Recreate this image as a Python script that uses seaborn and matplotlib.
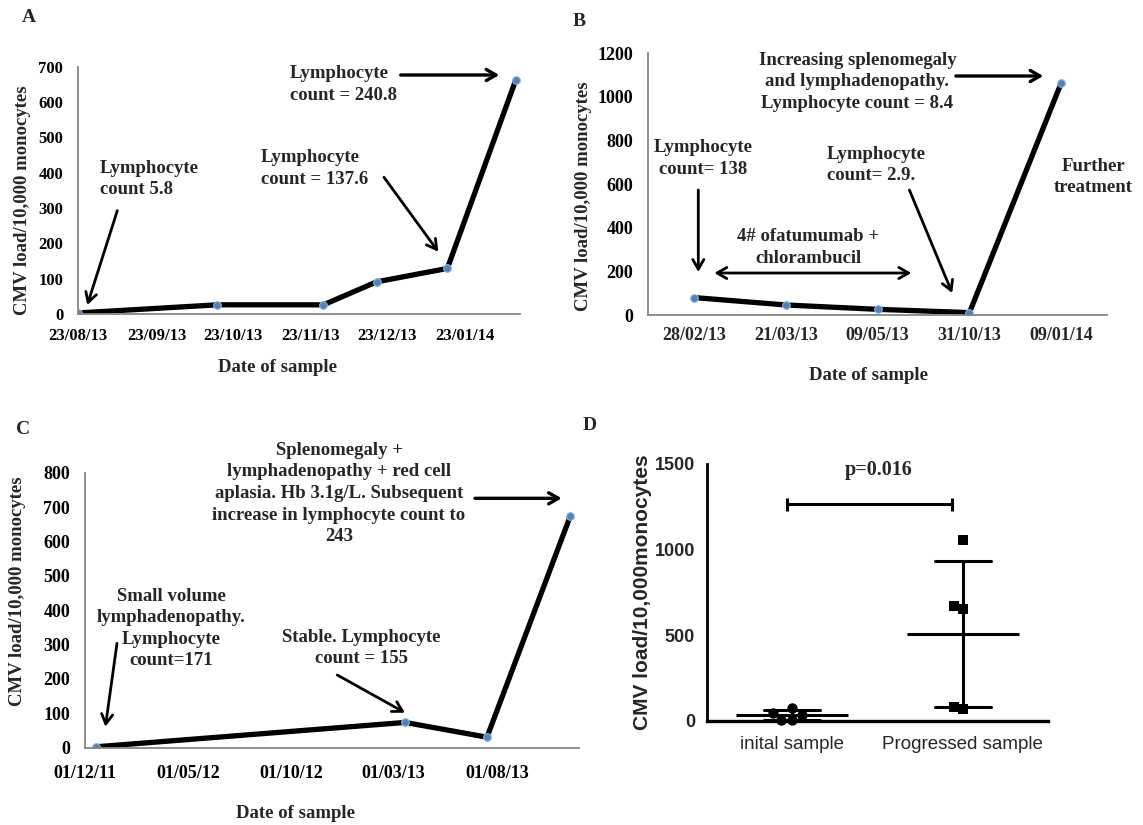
import numpy as np
import pandas as pd
import matplotlib
matplotlib.use("Agg")
import matplotlib.pyplot as plt
import matplotlib.dates as mdates
import seaborn as sns

# ---------------------------------------------------------
# DATA
# ---------------------------------------------------------
# Panel A - date axis
a_dates = ["2013-08-23", "2013-10-17", "2013-11-28", "2013-12-19", "2014-01-16", "2014-02-12"]
a_load = [3, 26, 26, 91, 129, 661]
a_ticks = ["2013-08-23", "2013-09-23", "2013-10-23", "2013-11-23", "2013-12-23", "2014-01-23"]

# Panel B - category axis
b_dates = ["28/02/13", "21/03/13", "09/05/13", "31/10/13", "09/01/14"]
b_load = [80, 46, 26, 11, 1065]

# Panel C - date axis
c_dates = ["2011-12-17", "2013-03-18", "2013-07-17", "2013-11-17"]
c_load = [2, 73, 30, 673]
c_ticks = ["2011-12-01", "2012-05-01", "2012-10-01", "2013-03-01", "2013-08-01"]

# Panel D - scatter with mean +/- SD
d_groups = ["inital sample", "Progressed sample"]
d_initial = [75, 33, 5, 2, 43]
d_progressed = [1055, 672, 655, 68, 82]
d_p_label = "p=0.016"

# ---------------------------------------------------------
# STYLE
# ---------------------------------------------------------
sns.set_theme(style="white")
plt.rcParams["font.family"] = ["Liberation Serif", "DejaVu Serif"]
plt.rcParams["font.weight"] = "bold"

W, H = 1143, 825
fig = plt.figure(figsize=(W / 100, H / 100), dpi=100)


def box(l, t, r, b):
    return [l / W, 1 - b / H, (r - l) / W, (b - t) / H]


def fp(x, y):
    return (x / W, 1 - y / H)


LINE = "black"
MARK = "#4F81BD"
GRAY = "#868686"
TXT = 13.5


def excel_axes(ax, tick_size, xpad):
    for s in ["top", "right"]:
        ax.spines[s].set_visible(False)
    for s in ["left", "bottom"]:
        ax.spines[s].set_color(GRAY)
        ax.spines[s].set_linewidth(1.3)
    ax.tick_params(axis="both", which="major", direction="out", length=3.8, width=1.2,
                   color=GRAY, labelsize=tick_size, labelcolor="black")
    ax.tick_params(axis="y", pad=7)
    ax.tick_params(axis="x", pad=xpad)
    ax.set_xlabel("")
    ax.set_ylabel("")
    for lab in ax.get_xticklabels() + ax.get_yticklabels():
        lab.set_fontweight("bold")


def arrow(x0, y0, x1, y1, style="->", lw=2.0):
    fig.add_artist(matplotlib.patches.FancyArrowPatch(
        fp(x0, y0), fp(x1, y1), transform=fig.transFigure,
        arrowstyle=style + ",head_length=7,head_width=4", color="black", lw=lw,
        mutation_scale=1, shrinkA=0, shrinkB=0))


def note(x, y, s, ha="center", size=TXT):
    fig.text(*fp(x, y), s, ha=ha, va="center", fontsize=size, fontweight="bold",
             multialignment=ha, linespacing=1.35)


line_kws = dict(color=LINE, linewidth=3.8, marker="o", markersize=5.5,
                markerfacecolor=MARK, markeredgecolor="#8DB3E2", markeredgewidth=0.8)

# ---------------------------------------------------------
# PANEL A
# ---------------------------------------------------------
axA = fig.add_axes(box(78.3, 66.7, 519.6, 314))
dfA = pd.DataFrame({"date": pd.to_datetime(a_dates), "load": a_load})
sns.lineplot(data=dfA, x="date", y="load", ax=axA, **line_kws)
axA.set_xlim(pd.Timestamp("2013-08-23"), pd.Timestamp("2014-02-13 14:00"))
axA.set_ylim(0, 700)
axA.set_yticks(np.arange(0, 701, 100))
axA.set_xticks(pd.to_datetime(a_ticks))
axA.xaxis.set_major_formatter(mdates.DateFormatter("%d/%m/%y"))
excel_axes(axA, 12, 6)

fig.text(*fp(28.6, 18), "A", fontsize=14, fontweight="bold", ha="center", va="center")
fig.text(*fp(278, 367), "Date of sample", fontsize=TXT, fontweight="bold", ha="center", va="center")
fig.text(*fp(23, 200), "CMV load/10,000 monocytes", fontsize=TXT, fontweight="bold",
         ha="center", va="center", rotation=90)
note(100, 179, "Lymphocyte\ncount 5.8", ha="left")
note(261, 168.7, "Lymphocyte\ncount = 137.6", ha="left")
note(290, 84.7, "Lymphocyte\ncount = 240.8", ha="left")
arrow(117.3, 210.7, 87.3, 305)
arrow(384, 177.3, 438.3, 251.7)
arrow(400.7, 75, 499.3, 75, lw=2.4)

# ---------------------------------------------------------
# PANEL B
# ---------------------------------------------------------
axB = fig.add_axes(box(648.1, 53.3, 1107.2, 315))
dfB = pd.DataFrame({"pos": np.arange(len(b_dates)), "load": b_load})
sns.lineplot(data=dfB, x="pos", y="load", ax=axB, **line_kws)
axB.set_xlim(-0.5, len(b_dates) - 0.5)
axB.set_ylim(0, 1200)
axB.set_yticks(np.arange(0, 1201, 200))
axB.set_xticks(np.arange(-0.5, len(b_dates), 1.0))
axB.set_xticklabels([])
axB.set_xticks(np.arange(len(b_dates)), minor=True)
axB.set_xticklabels(b_dates, minor=True)
excel_axes(axB, 13, 9)
axB.tick_params(axis="x", which="minor", length=0, labelsize=13, pad=9)
for lab in axB.get_xticklabels(minor=True):
    lab.set_fontweight("bold")

fig.text(*fp(579, 21), "B", fontsize=14, fontweight="bold", ha="center", va="center")
fig.text(*fp(868.6, 375), "Date of sample", fontsize=TXT, fontweight="bold", ha="center", va="center")
fig.text(*fp(584, 196), "CMV load/10,000 monocytes", fontsize=TXT, fontweight="bold",
         ha="center", va="center", rotation=90)
note(857.4, 82, "Increasing splenomegaly\nand lymphadenopathy.\nLymphocyte count = 8.4")
note(703, 158.5, "Lymphocyte\ncount= 138")
note(808, 247.5, "4# ofatumumab +\nchlorambucil")
note(826.9, 165, "Lymphocyte\ncount= 2.9.", ha="left")
note(1093.5, 177, "Further\ntreatment")
arrow(955.9, 76, 1043.3, 76, lw=2.4)
arrow(698.3, 190, 698.3, 272)
arrow(714.3, 273, 911.3, 273, style="<->")
arrow(909.4, 190, 952.2, 293)

# ---------------------------------------------------------
# PANEL C
# ---------------------------------------------------------
axC = fig.add_axes(box(85, 472.7, 579, 747.5))
dfC = pd.DataFrame({"date": pd.to_datetime(c_dates), "load": c_load})
sns.lineplot(data=dfC, x="date", y="load", ax=axC, **line_kws)
axC.set_xlim(pd.Timestamp("2011-12-01"), pd.Timestamp("2013-11-30"))
axC.set_ylim(0, 800)
axC.set_yticks(np.arange(0, 801, 100))
axC.set_xticks(pd.to_datetime(c_ticks))
axC.xaxis.set_major_formatter(mdates.DateFormatter("%d/%m/%y"))
excel_axes(axC, 13, 9)

fig.text(*fp(23, 430), "C", fontsize=14, fontweight="bold", ha="center", va="center")
fig.text(*fp(295.7, 813.3), "Date of sample", fontsize=TXT, fontweight="bold", ha="center", va="center")
fig.text(*fp(18, 590.8), "CMV load/10,000 monocytes", fontsize=TXT, fontweight="bold",
         ha="center", va="center", rotation=90)
note(339, 493.5, "Splenomegaly +\nlymphadenopathy + red cell\naplasia. Hb 3.1g/L. Subsequent\n"
     "increase in lymphocyte count to\n243")
note(171.4, 628.5, "Small volume\nlymphadenopathy.\nLymphocyte\ncount=171")
note(361.4, 648, "Stable. Lymphocyte\ncount = 155")
arrow(475, 498.3, 561.7, 498.3, lw=2.4)
arrow(117, 643.3, 105.4, 726.7)
arrow(337.3, 675, 405, 712.7)

# ---------------------------------------------------------
# PANEL D
# ---------------------------------------------------------
axD = fig.add_axes(box(706.9, 464, 1048, 720.7))
dfD = pd.DataFrame({
    "group": [d_groups[0]] * len(d_initial) + [d_groups[1]] * len(d_progressed),
    "load": d_initial + d_progressed,
})
sans = ["Liberation Sans", "DejaVu Sans"]
sns.swarmplot(data=dfD[dfD["group"] == d_groups[0]], x="group", y="load", order=d_groups,
              color="black", marker="o", size=7.5, ax=axD)
sns.swarmplot(data=dfD[dfD["group"] == d_groups[1]], x="group", y="load", order=d_groups,
              color="black", marker="s", size=6.5, ax=axD)
sns.pointplot(data=dfD, x="group", y="load", order=d_groups, errorbar="sd", capsize=0.33,
              color="black", linestyle="none", marker="_", markersize=81,
              markeredgewidth=2.2, err_kws={"linewidth": 2.2}, ax=axD)
for c in axD.collections:
    c.set_clip_on(False)
for l in axD.lines:
    l.set_clip_on(False)
axD.set_xlim(-0.5, 1.5)
axD.set_ylim(0, 1500)
axD.set_yticks([0, 500, 1000, 1500])
axD.set_xlabel("")
axD.set_ylabel("")
for s in ["top", "right"]:
    axD.spines[s].set_visible(False)
axD.spines["left"].set_linewidth(2.0)
axD.spines["bottom"].set_linewidth(2.4)
for s in ["left", "bottom"]:
    axD.spines[s].set_color("black")
axD.tick_params(axis="y", direction="out", length=6.5, width=2.0, color="black", pad=2)
axD.tick_params(axis="x", direction="out", length=8, width=2.0, color="black", pad=3)
for lab in axD.get_yticklabels():
    lab.set_fontfamily(sans)
    lab.set_fontweight("bold")
    lab.set_fontsize(13)
for lab in axD.get_xticklabels():
    lab.set_fontfamily(sans)
    lab.set_fontweight("normal")
    lab.set_fontsize(13.5)

# significance bracket
sig_x0, sig_x1, sig_y, sig_h = -0.03, 0.94, 1266, 38
axD.hlines(sig_y, sig_x0, sig_x1, color="black", lw=2.2)
axD.vlines([sig_x0, sig_x1], sig_y - sig_h, sig_y + sig_h, color="black", lw=2.2)
axD.text((sig_x0 + sig_x1) / 2 + 0.05, 1465, d_p_label, ha="center", va="center",
         fontsize=14.5, fontweight="bold", family=["Liberation Serif", "DejaVu Serif"])

fig.text(*fp(590, 426), "D", fontsize=14, fontweight="bold", ha="center", va="center")
fig.text(*fp(643, 592.5), "CMV load/10,000monocytes", fontsize=15, fontweight="bold",
         ha="center", va="center", rotation=90, family=sans)

fig.savefig("out.png", dpi=100, facecolor="white")
